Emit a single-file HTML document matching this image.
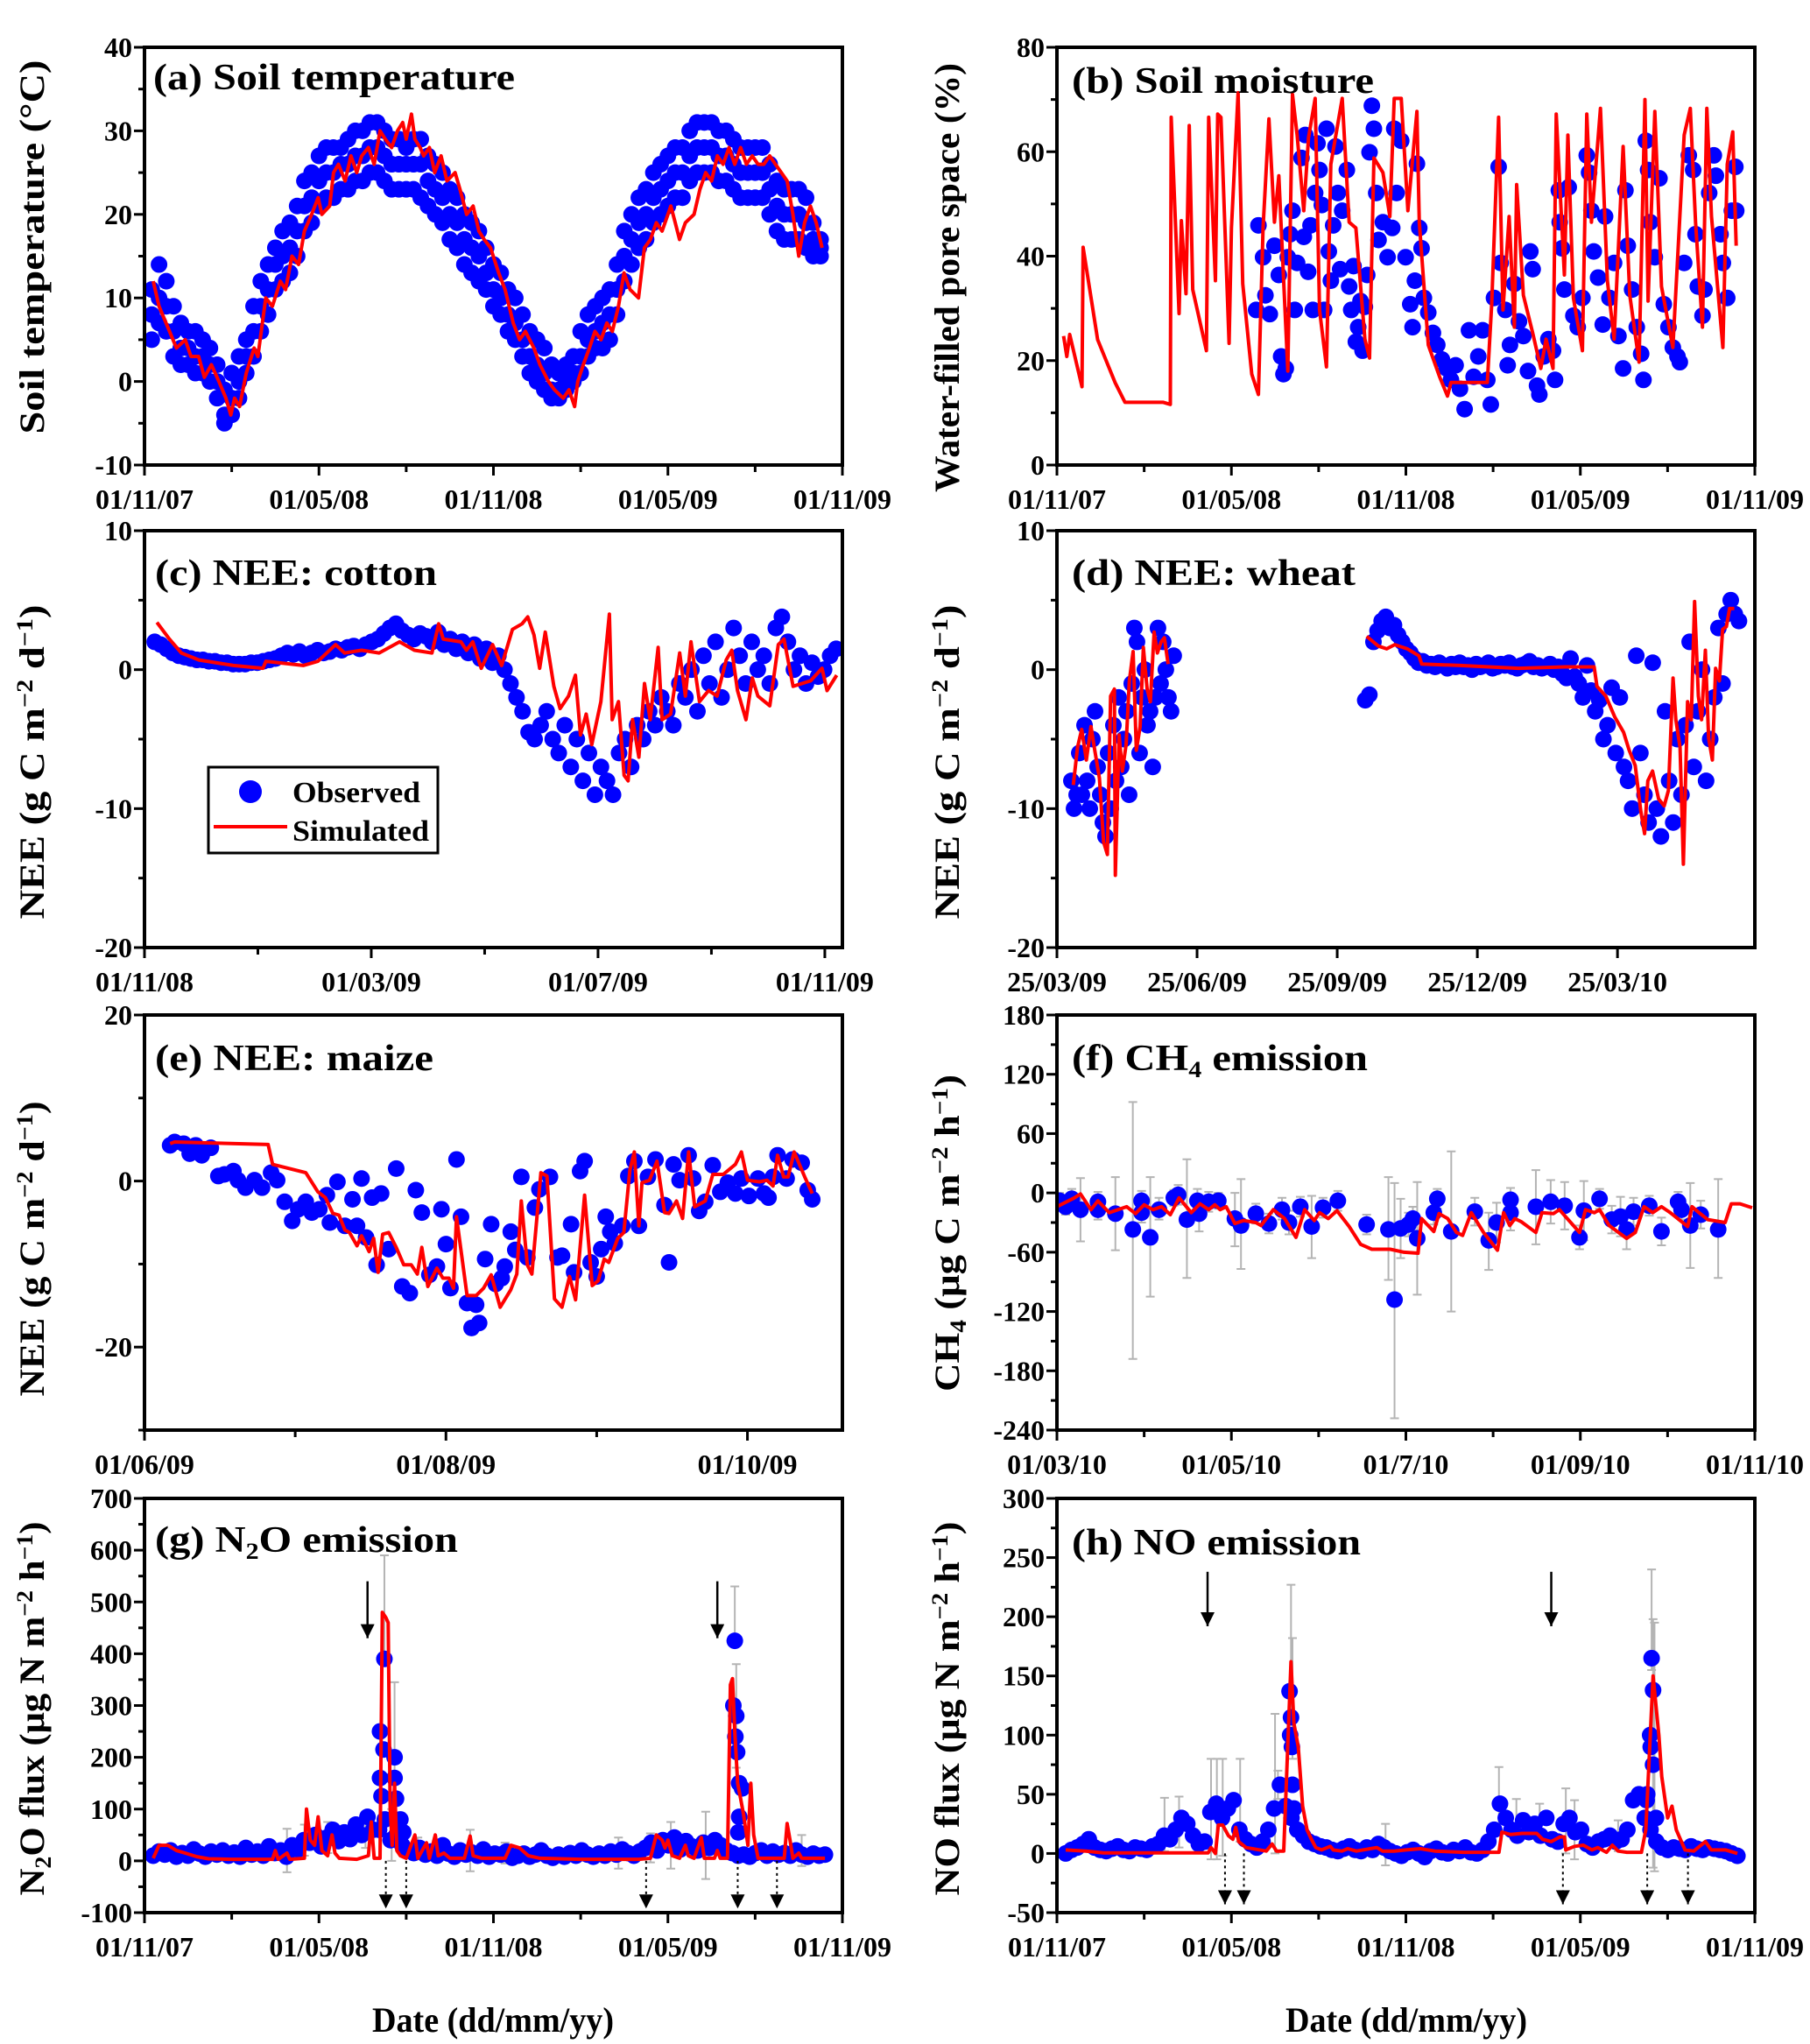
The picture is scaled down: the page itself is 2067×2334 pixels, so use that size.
<!DOCTYPE html>
<html><head><meta charset="utf-8">
<style>
html,body{margin:0;padding:0;background:#fff;}
svg{display:block;}
text{font-family:"Liberation Serif","Times New Roman",serif;font-weight:bold;fill:#000;}
</style></head>
<body>
<svg id="fig" xmlns="http://www.w3.org/2000/svg" width="2067" height="2334" viewBox="0 0 2067 2334">
<rect width="2067" height="2334" fill="#fff"/>
</svg>
<script>
// ---------- DATA (x in months from each panel's first date) ----------
// (a) soil temperature: observed band (low / mid / high samples every 0.25 month)
const obsAmid = [8,10,9,6,4,4,3,3,2,0,-4,-2,0,3,6,9,11,14,15,16,18,21,22,24,25,25,26,26,27,27,28,28,27,26,26,26,26,26,24,23,22,20,19,17,16,15,13,11,10,8,7,5,3,2,1,-1,-1,0,1,3,5,6,7,8,11,15,17,19,20,22,23,24,25,25,27,28,28,28,27,27,26,25,25,25,25,23,21,20,20,20,19,17,16];
const obsAlo = [5,7,6,3,2,2,1,1,0,-2,-5,-4,-2,1,3,6,8,11,12,13,15,18,19,21,22,22,23,23,24,24,25,25,24,23,23,23,23,22,21,20,19,17,16,14,13,12,11,9,8,6,5,3,1,0,-1,-2,-2,-1,0,1,3,4,4,5,8,12,14,16,17,19,20,21,22,22,24,25,25,25,24,24,23,22,22,22,22,20,18,17,17,17,16,15,15];
const obsAhi = [11,14,12,9,7,6,6,5,4,2,-1,1,3,5,9,12,14,16,18,19,21,24,25,27,28,28,28,29,30,30,31,31,30,29,29,28,29,29,27,26,25,23,22,20,19,18,16,14,13,11,10,8,6,5,4,2,1,2,3,6,8,9,10,11,14,18,20,22,23,25,26,27,28,28,30,31,31,31,30,30,29,28,28,28,28,26,24,23,23,23,22,19,17];
const spanA = [0.25, 23.25];
const simA = [[0.3,12],[0.5,9],[0.86,6],[1.1,4],[1.4,5],[1.6,3],[1.86,3],[2.06,0.5],[2.3,2],[2.56,0],[2.8,-2],[2.97,-4],[3.1,-2],[3.27,-3],[3.5,1],[3.77,4],[3.9,3],[4.17,10],[4.4,9],[4.67,12],[4.85,11],[5.07,15],[5.3,14],[5.5,18],[5.75,20],[5.97,22],[6.1,20],[6.37,21],[6.5,25],[6.67,26],[6.9,24],[7.1,27],[7.3,25],[7.47,27],[7.7,28],[7.9,26],[8.1,30],[8.28,29],[8.5,28],[8.7,30],[8.88,31],[9.0,29],[9.18,32],[9.3,29],[9.48,28],[9.6,27],[9.8,28],[9.98,25],[10.2,27],[10.4,24],[10.68,25],[10.85,23],[11.08,20],[11.3,21],[11.5,18],[11.68,17],[11.9,16],[12.18,13],[12.4,11],[12.68,7],[12.9,5],[13.1,6],[13.39,4],[13.6,2],[13.89,0],[14.1,-1],[14.4,-2],[14.6,-1],[14.79,-3],[14.9,0],[15.09,2],[15.3,4],[15.49,6],[15.7,5],[15.9,7],[16.09,6],[16.3,9],[16.49,13],[16.7,11],[16.99,10],[17.19,16],[17.4,17],[17.6,19],[17.8,18],[18.1,21],[18.25,19],[18.4,17],[18.6,19],[18.9,20],[19.1,23],[19.3,25],[19.5,24],[19.7,27],[19.9,26],[20.1,28],[20.3,26],[20.5,28],[20.7,26],[20.9,27],[21.1,26],[21.3,26],[21.5,27],[21.7,26],[21.9,25],[22.1,24],[22.3,20],[22.5,15],[22.7,19],[22.9,21],[23.1,19],[23.3,16]];
// (b) soil moisture
const simB = [[0.23,24.7],[0.34,20.8],[0.44,25],[0.86,15],[0.9,41.7],[1.4,24],[2.0,15.8],[2.34,12],[3.66,12],[3.9,11.6],[3.93,66.6],[4.2,29],[4.28,46.8],[4.44,32.8],[4.55,65],[4.67,33.6],[5.14,21.9],[5.22,66.6],[5.45,35.3],[5.53,67.2],[5.64,66.6],[5.92,23.3],[6.0,45.4],[6.23,71.3],[6.39,34.7],[6.7,17.4],[6.93,13.5],[7.09,45.4],[7.29,66.3],[7.48,46.5],[7.63,55.4],[7.94,18],[8.1,71],[8.26,63.2],[8.49,48.7],[8.65,62.7],[8.88,70.2],[9.03,29.7],[9.27,18.8],[9.42,57.6],[9.81,70.2],[10.05,46.5],[10.28,45.4],[10.59,24.1],[10.75,20.5],[10.9,58.8],[11.21,56],[11.45,47.6],[11.6,70.2],[11.84,70.2],[12.07,48.7],[12.38,67.7],[12.46,46.5],[12.77,23],[13.16,16.9],[13.43,13.2],[13.55,15.8],[14.8,15.8],[14.95,30.8],[15.19,66.6],[15.34,29.7],[15.55,47.6],[15.73,26.4],[15.81,53.7],[16.04,32.5],[16.36,25.3],[16.64,18.5],[16.82,24.1],[17.06,18.5],[17.17,67.2],[17.45,36.4],[17.57,63.2],[17.76,32],[18.07,21.9],[18.22,67.2],[18.38,46.5],[18.69,68.3],[18.93,35.3],[19.16,24.1],[19.47,61],[19.7,32.5],[20.02,19.7],[20.22,70],[20.33,31.4],[20.56,67.7],[20.79,34.2],[21.18,22.5],[21.57,63.2],[21.78,68.3],[21.96,46.5],[22.2,26.4],[22.35,68.3],[22.51,47.6],[22.9,22.5],[23.05,57.6],[23.24,63.8],[23.36,42]];
const obsB = [[6.85,29.7],[6.93,45.9],[7.09,39.8],[7.17,32.5],[7.32,28.9],[7.48,42],[7.63,36.4],[7.71,20.8],[7.79,17.4],[7.87,18.5],[7.94,39.8],[8.02,44.2],[8.1,48.7],[8.18,29.7],[8.26,38.7],[8.41,58.8],[8.49,43.7],[8.54,63.2],[8.64,37],[8.72,45.9],[8.8,29.7],[8.88,52.1],[8.96,61.6],[9.03,56.5],[9.11,49.8],[9.19,29.7],[9.27,64.4],[9.35,40.9],[9.42,35.3],[9.5,45.9],[9.58,61],[9.66,52.1],[9.74,37.5],[9.81,48.7],[9.97,56.5],[10.05,34.2],[10.12,29.7],[10.2,38.1],[10.28,23.6],[10.36,26.4],[10.44,31.4],[10.51,21.9],[10.59,30.3],[10.67,36.4],[10.75,59.9],[10.83,68.8],[10.9,64.4],[10.98,52.1],[11.06,43.1],[11.21,46.5],[11.37,39.8],[11.53,45.4],[11.6,64.4],[11.68,52.1],[11.84,62.1],[11.99,39.8],[12.15,30.8],[12.23,26.4],[12.31,35.3],[12.38,57.7],[12.46,45.4],[12.54,41.5],[12.62,32],[12.77,29.2],[12.93,25.3],[13.08,23],[13.24,20.2],[13.4,18.5],[13.55,16.3],[13.71,19.1],[13.86,14.6],[14.02,10.7],[14.17,25.8],[14.33,16.9],[14.49,20.8],[14.64,25.8],[14.8,16.3],[14.92,11.6],[15.03,32],[15.19,57.1],[15.26,38.7],[15.42,29.7],[15.5,19.1],[15.58,23],[15.73,34.7],[15.89,27.5],[16.04,24.7],[16.2,18],[16.28,40.9],[16.36,37.5],[16.51,15.2],[16.59,13.5],[16.74,20.8],[16.9,24.1],[17.06,21.9],[17.13,16.3],[17.26,52.6],[17.29,46.5],[17.37,41.5],[17.45,33.6],[17.6,53.2],[17.76,28.6],[17.91,26.4],[18.07,32],[18.22,59.3],[18.3,56],[18.38,48.7],[18.46,40.9],[18.61,35.9],[18.77,26.9],[18.85,47.6],[19,32],[19.16,38.7],[19.31,24.7],[19.47,18.5],[19.55,52.6],[19.63,42],[19.78,33.6],[19.94,26.4],[20.09,21.3],[20.17,16.3],[20.25,62.1],[20.33,56.5],[20.4,46.5],[20.56,39.8],[20.72,54.9],[20.87,30.8],[21.03,26.4],[21.18,22.5],[21.34,20.8],[21.42,19.7],[21.57,38.7],[21.73,59.3],[21.88,56.5],[21.96,44.2],[22.04,34.2],[22.2,28.6],[22.27,33.6],[22.43,52.1],[22.59,59.3],[22.66,55.4],[22.82,44.2],[22.9,38.7],[23.05,32],[23.21,48.7],[23.33,57.1],[23.36,48.7]];
// (c) NEE cotton
const simC = [[0.22,3.4],[0.44,2.2],[0.65,1.2],[0.96,0.7],[1.57,0.3],[2.09,0.1],[2.14,0.6],[2.8,0.3],[3.06,0.6],[3.37,1.8],[3.53,1.2],[3.83,1.4],[4.14,1.2],[4.5,2.0],[4.76,1.4],[5.07,1.2],[5.19,3.3],[5.27,2.2],[5.58,2.0],[5.68,1.4],[5.79,2.0],[5.94,0.1],[6.14,1.8],[6.3,0.3],[6.49,2.9],[6.66,3.3],[6.76,3.8],[6.87,2.5],[6.97,0.1],[7.07,2.7],[7.22,-1.2],[7.33,-2.8],[7.48,-1.9],[7.6,-0.4],[7.69,-4.7],[7.79,-3.2],[7.89,-5.4],[8.05,-2.3],[8.2,4.0],[8.25,-3.6],[8.36,-2.3],[8.46,-7.6],[8.53,-8.0],[8.61,-3.6],[8.72,-6.3],[8.82,-1.0],[8.92,-3.6],[9.06,1.6],[9.13,-3.6],[9.28,-3.2],[9.44,1.2],[9.54,-1.9],[9.64,2.0],[9.79,-2.3],[9.95,-1.5],[10.1,-1.9],[10.26,0.7],[10.36,1.4],[10.46,-1.5],[10.61,-3.6],[10.72,-0.6],[10.82,-1.9],[11.03,-2.6],[11.18,1.8],[11.28,2.2],[11.44,-1.2],[11.75,-0.8],[11.95,0.1],[12.04,-1.5],[12.21,-0.4]];
const obsC = [2,1.8,1.5,1.2,1,0.9,0.8,0.7,0.7,0.6,0.6,0.5,0.5,0.4,0.4,0.4,0.5,0.5,0.6,0.7,0.8,1.0,1.2,1.1,1.3,1.0,1.2,1.4,1.2,1.3,1.5,1.4,1.6,1.7,1.5,1.8,2.0,2.2,2.6,3.0,3.3,2.8,2.5,2.2,2.6,2.4,2.0,2.7,1.8,2.2,1.5,2.0,1.2,1.8,0.8,1.5,0.5,1.0,0,-1,-2,-3,-4.5,-5,-4,-3,-5,-6,-4,-7,-5,-8,-6,-9,-7,-8,-9,-6,-5,-7,-4,-5,-3,-4,-2,-3,-4,-1,-2,0,-3,1,-1,2,-2,0,3,1,-1,2,0,1,-1,3,3.8,2,0,1,-1,0.5,-0.5,0,1,1.5];
const spanC = [0.18, 12.2];
// (d) NEE wheat
const simD1 = [[0.35,-8.3],[0.44,-5.6],[0.53,-4.3],[0.63,-6.5],[0.73,-4.1],[0.81,-5.8],[0.91,-7.8],[1.0,-12.4],[1.08,-13.3],[1.15,-1.9],[1.23,-1.4],[1.25,-14.8],[1.33,-4.7],[1.4,-7.3],[1.48,-5.4],[1.55,-0.8],[1.63,1.3],[1.7,-5.8],[1.78,-4.1],[1.85,1.6],[1.93,-1.4],[2.0,-2.3],[2.08,2.7],[2.15,1.2],[2.23,2.0],[2.3,2.3],[2.38,0.4]];
const simD2 = [[6.63,2.4],[6.88,1.7],[7.06,1.5],[7.23,1.8],[7.5,1.5],[7.75,1.0],[7.81,0.4],[8.63,0.3],[9.88,0.1],[10.88,0.2],[11.5,0.2],[11.56,-1.2],[11.75,-1.9],[11.94,-3.4],[12.13,-4.5],[12.25,-5.8],[12.38,-6.9],[12.5,-10.2],[12.58,-11.8],[12.65,-8],[12.75,-7.3],[12.88,-9.3],[13.0,-9.8],[13.09,-8.7],[13.19,-0.6],[13.25,-3.6],[13.34,-5.6],[13.41,-14],[13.5,-2.3],[13.58,-3.6],[13.65,4.9],[13.73,-1.9],[13.8,-3.6],[13.88,1.4],[13.95,-4.9],[14.03,-6.5],[14.1,0.1],[14.18,-0.8],[14.25,2.9],[14.33,3.1],[14.4,4.4],[14.5,4.4]];
const obsD1 = [-8,-10,-9,-6,-9,-4,-8,-10,-5,-3,-7,-9,-11,-12,-6,-10,-4,-8,-2,-7,-5,-3,-9,-1,3,2,-6,-2,0,-4,-3,-7,-2,3,-1,2,0,-2,-3,1];
const spanD1 = [0.31, 2.5];
const obsD2 = [-2.2,-1.8,2,2.8,3.5,3.8,3,3.2,2.5,2,1.5,1.2,
 0.8,0.5,0.6,0.3,0.4,0.2,0.5,0.3,0.1,0.4,0.2,0.5,0.2,0.3,0,0.4,0.2,0.3,0.5,0.1,0.2,0.4,0.3,0.5,0.2,0.1,0.3,0.4,0.6,0.2,0.3,0.1,0.2,0.4,0,0.2,-0.3,-0.6,0.8,-0.5,
 -1,-2,0.3,-1.5,-3,-2.2,-5,-4,-1.3,-6,-2,-7,
 -8,-10,1,-6,-9,-11,0.5,-10,-12,-3,-8,-11,-5,-9,
 -4,2,-7,-3,0,-8,-5,-2,3,-1,4,5,4,3.5];
const spanD2 = [6.6, 14.6];
// (e) NEE maize
const simE = [[0.17,4.5],[0.2,4.7],[0.82,4.4],[0.85,2.0],[1.07,1.0],[1.15,-1.3],[1.2,-2.0],[1.25,-3.9],[1.29,-4.1],[1.33,-5.9],[1.36,-6.2],[1.41,-7.8],[1.44,-6.6],[1.49,-8.5],[1.52,-6.9],[1.55,-11],[1.58,-6.4],[1.62,-6.2],[1.67,-8],[1.72,-10.1],[1.77,-10.1],[1.81,-11.2],[1.84,-8],[1.88,-12.7],[1.94,-10.5],[1.98,-11.7],[2.02,-11.7],[2.05,-12.9],[2.07,-4.3],[2.14,-13.8],[2.2,-13.8],[2.25,-12.9],[2.3,-11.3],[2.36,-15.2],[2.43,-13.1],[2.47,-11.2],[2.5,-2.4],[2.54,-10.1],[2.57,-11.2],[2.63,1.0],[2.67,0.6],[2.72,-14.2],[2.77,-15.2],[2.82,-11.5],[2.86,-14.3],[2.92,-1.7],[2.97,-12.6],[3.01,-12],[3.05,-9.4],[3.08,-9.8],[3.14,-6.9],[3.18,-6.2],[3.22,1.3],[3.25,3.5],[3.28,-5.4],[3.3,-0.2],[3.35,0.1],[3.4,2.4],[3.45,-3.8],[3.48,-3.9],[3.53,-2.4],[3.57,-4.5],[3.61,3.5],[3.65,-3.1],[3.72,-2.4],[3.77,0.8],[3.84,0.8],[3.92,2.0],[3.96,3.5],[4.0,0.1],[4.08,-0.1],[4.13,0.1],[4.17,-0.6],[4.2,3.1],[4.24,0.5],[4.27,0.5],[4.31,3.5],[4.38,0.5],[4.43,-1.5]];
const obsE = [[.17,4.3],[.20,4.7],[.26,4.5],[.30,3.3],[.34,4.3],[.38,3.1],[.44,4.0],[.49,0.6],[.53,0.8],[.59,1.2],[.62,0.1],[.67,-0.8],[.73,0.1],[.78,-0.8],[.84,1.0],[.88,0.1],[.93,-2.5],[.98,-4.8],[1.02,-3.4],[1.07,-2.5],[1.11,-3.8],[1.16,-3.4],[1.21,-1.7],[1.23,-5.0],[1.28,-0.1],[1.33,-5.4],[1.38,-2.2],[1.41,-5.4],[1.44,0.3],[1.47,-6.8],[1.51,-2.0],[1.57,-1.5],[1.54,-10.1],[1.62,-8.2],[1.67,1.5],[1.71,-12.7],[1.76,-13.5],[1.80,-1.1],[1.84,-3.8],[1.89,-11.3],[1.94,-10.3],[1.97,-3.4],[2.00,-7.6],[2.03,-12.9],[2.07,2.6],[2.10,-4.3],[2.14,-14.7],[2.20,-14.9],[2.17,-17.7],[2.22,-17.1],[2.26,-9.4],[2.30,-5.2],[2.33,-12.4],[2.37,-11.7],[2.39,-10.3],[2.43,-6.1],[2.46,-8.3],[2.50,0.5],[2.54,-9.2],[2.59,-3.2],[2.62,-1.0],[2.69,0.5],[2.74,-9.2],[2.77,-9.0],[2.83,-5.2],[2.85,-11.0],[2.89,1.2],[2.92,2.4],[2.96,-9.8],[3.00,-11.5],[3.03,-8.2],[3.06,-4.3],[3.09,-6.1],[3.12,-7.5],[3.17,-5.4],[3.21,0.6],[3.25,2.4],[3.28,-5.4],[3.34,0.5],[3.39,2.6],[3.45,-2.9],[3.48,-9.8],[3.51,2.0],[3.55,0.1],[3.61,3.1],[3.64,0.3],[3.68,-3.6],[3.72,-2.5],[3.77,1.9],[3.82,-1.3],[3.87,-0.2],[3.92,-1.5],[3.96,0.3],[4.01,-1.8],[4.07,0.3],[4.11,-1.5],[4.14,-2.0],[4.17,0.5],[4.20,3.1],[4.26,0.3],[4.30,2.6],[4.36,2.2],[4.40,-1.1],[4.43,-2.2]];
// (f) CH4: [month, value, errUp, errDown]
const obsF = [[0.03,-8,8,8],[0.10,-14,10,8],[0.17,-6,10,10],[0.27,-17,32,32],[0.47,-9,10,10],[0.47,-17,10,10],[0.67,-21,37,37],[0.87,-37,129,131],[0.97,-8,10,10],[0.97,-20,10,10],[1.07,-45,61,60],[1.17,-17,12,10],[1.34,-5,8,8],[1.39,-2,10,10],[1.49,-27,61,59],[1.61,-8,12,10],[1.63,-21,18,18],[1.74,-9,10,10],[1.85,-8,8,8],[2.04,-26,26,28],[2.11,-33,47,44],[2.28,-21,10,10],[2.43,-31,10,10],[2.58,-17,12,10],[2.66,-30,12,12],[2.79,-14,10,10],[2.92,-34,31,32],[3.05,-15,10,10],[3.22,-8,10,10],[3.55,-32,10,10],[3.80,-37,53,51],[3.87,-108,118,120],[3.94,-36,30,30],[4.03,-32,12,12],[4.08,-26,12,12],[4.13,-46,57,57],[4.32,-20,12,12],[4.36,-6,10,10],[4.52,-39,81,81],[4.79,-19,14,14],[4.95,-48,28,30],[5.04,-30,20,20],[5.20,-7,12,12],[5.20,-20,18,18],[5.49,-14,37,38],[5.66,-9,22,22],[5.82,-13,24,24],[5.99,-45,12,12],[6.04,-18,30,30],[6.22,-6,10,10],[6.36,-27,14,14],[6.46,-24,20,20],[6.53,-37,20,20],[6.61,-19,14,14],[6.79,-13,10,10],[6.93,-39,14,14],[7.12,-9,10,10],[7.16,-17,10,10],[7.26,-33,43,43],[7.38,-22,14,14],[7.58,-37,51,49]];
const simF = [[0,-14],[0.2,-5],[0.27,-1],[0.39,-17],[0.47,-8],[0.6,-20],[0.8,-14],[0.9,-21],[1.0,-12],[1.1,-17],[1.2,-14],[1.3,-22],[1.4,-5],[1.54,-20],[1.64,-11],[1.74,-17],[1.81,-12],[1.87,-17],[1.94,-14],[2.04,-31],[2.14,-28],[2.28,-30],[2.34,-33],[2.48,-17],[2.61,-26],[2.74,-45],[2.84,-17],[2.95,-28],[3.01,-20],[3.11,-26],[3.21,-18],[3.35,-34],[3.48,-52],[3.61,-57],[3.82,-57],[3.98,-60],[4.14,-61],[4.18,-26],[4.32,-39],[4.38,-21],[4.48,-26],[4.58,-40],[4.65,-43],[4.75,-20],[4.89,-40],[5.05,-58],[5.12,-20],[5.19,-33],[5.25,-26],[5.32,-29],[5.49,-40],[5.56,-20],[5.69,-21],[5.76,-17],[5.99,-40],[6.06,-17],[6.16,-20],[6.22,-17],[6.33,-33],[6.53,-46],[6.63,-40],[6.73,-14],[6.83,-20],[6.93,-14],[7.03,-20],[7.23,-34],[7.28,-14],[7.36,-20],[7.46,-27],[7.66,-30],[7.73,-11],[7.83,-11],[7.97,-15]];
// (g) N2O
const simG = [[0.3,5],[0.5,30],[0.8,30],[1.1,20],[1.4,15],[1.8,8],[2.2,4],[3,3],[4,3],[4.4,3],[4.5,20],[4.6,3],[4.9,15],[5.0,3],[5.5,5],[5.57,100],[5.7,40],[5.85,30],[5.97,85],[6.1,20],[6.3,10],[6.45,50],[6.55,15],[6.7,5],[7.3,3],[7.7,10],[7.8,75],[7.9,5],[8.1,5],[8.18,480],[8.3,470],[8.38,460],[8.45,100],[8.52,30],[8.6,150],[8.68,20],[8.8,10],[9.0,5],[9.3,50],[9.4,5],[9.7,35],[9.8,5],[10.0,50],[10.1,10],[10.3,15],[10.5,5],[11.0,5],[11.2,48],[11.3,10],[11.6,5],[12.4,5],[12.6,30],[12.9,25],[13.2,10],[13.6,5],[15,3],[16,3],[17,3],[17.4,5],[17.6,50],[17.8,40],[17.9,25],[18.0,40],[18.15,10],[18.4,5],[18.6,30],[18.7,10],[18.9,5],[19.15,45],[19.25,5],[19.6,5],[19.7,20],[19.8,5],[20.05,5],[20.15,340],[20.22,352],[20.3,250],[20.4,150],[20.5,120],[20.6,90],[20.75,30],[20.85,150],[20.95,50],[21.1,5],[22.0,5],[22.1,72],[22.2,40],[22.3,5],[22.5,15],[22.6,5],[23.4,5]];
const obsGbase = [10,18,12,20,8,15,10,22,14,8,18,12,20,10,16,8,25,12,18,10,28,15,20,8,
 30,22,40,35,50,28,45,60,38,55,42,70,50,85,60,
 60,80,40,50,30,
 20,15,25,12,18,10,30,14,8,20,12,16,10,22,8,14,12,18,6,10,14,8,12,20,10,6,12,8,15,10,20,12,8,14,10,18,12,22,15,10,18,
 25,35,20,40,30,45,22,38,28,20,35,25,40,30,
 20,15,10,12,
 8,15,20,10,18,12,15,10,20,12,8,14,10,12];
const spanG = [0.3, 23.4];
const obsGpeak = [[8.1,250],[8.25,390],[8.22,215],[8.1,160],[8.15,125],[8.6,200],[8.6,160],[8.65,120],[8.8,80],[8.9,55],[20.3,425],[20.25,300],[20.35,280],[20.32,240],[20.38,210],[20.45,150],[20.55,140],[20.45,85],[20.42,55]];
const errG = [[4.9,20,42,42],[5.5,40,30,30],[6.3,45,30,30],[7.6,60,35,35],[8.25,390,200,10],[8.6,200,145,150],[8.5,60,40,60],[9.4,30,15,15],[11.2,20,40,40],[12.4,15,20,20],[16.3,15,30,30],[17.4,25,28,28],[18.1,30,45,45],[19.3,20,75,55],[20.3,425,105,10],[20.35,280,100,100],[22.6,20,30,30]];
// (h) NO
const simH = [[0.3,3],[1.0,2],[1.6,0.5],[5.2,0.5],[5.3,5],[5.45,0],[5.55,24],[5.7,24],[5.9,15],[6.05,12],[6.15,22],[6.25,10],[6.5,5],[7.2,2],[7.4,8],[7.55,2],[7.8,2],[8.05,162],[8.15,110],[8.3,90],[8.45,40],[8.6,20],[8.75,12],[8.9,5],[9.1,3],[9.4,6],[9.5,3],[9.8,2],[10.0,4],[10.3,2],[11.0,5],[11.2,2],[11.6,2],[12.0,3],[12.5,4],[13.0,2],[14,1],[15.2,1],[15.3,18],[15.6,16],[16.0,17],[16.5,17],[16.7,12],[17.0,10],[17.3,14],[17.45,14],[17.5,3],[17.8,6],[18.1,7],[18.4,3],[18.6,5],[18.9,1],[19.1,7],[19.3,2],[19.6,1],[20.1,1],[20.25,20],[20.5,150],[20.7,100],[20.8,65],[21.0,30],[21.15,40],[21.3,20],[21.6,3],[21.9,2],[22.3,10],[22.5,3],[23.0,3],[23.4,0]];
const obsHbase = [0,3,5,8,12,5,3,2,4,6,3,2,5,4,3,6,8,15,12,20,30,25,15,8,10,35,42,30,38,45,20,12,8,5,10,20,38,58,40,30,20,15,10,8,6,5,3,2,4,6,3,2,5,3,8,5,2,0,-2,1,3,0,-3,2,4,1,0,3,2,5,1,0,3,10,20,42,30,20,15,28,18,25,15,30,12,10,25,30,18,20,8,5,10,12,15,10,12,20,45,50,30,20,10,5,3,5,4,3,6,4,3,5,4,3,2,0,-2];
const spanH = [0.3, 23.4];
const obsHpeak = [[8.0,137],[8.05,115],[8.02,100],[8.08,90],[8.1,58],[8.15,38],[20.45,165],[20.5,138],[20.4,100],[20.42,90],[20.5,75],[20.3,50],[20.28,45],[20.6,30]];
const errH = [[3.7,22,25,20],[4.2,30,18,25],[5.3,35,45,40],[5.5,40,40,45],[5.7,38,42,40],[6.3,45,35,35],[7.5,40,78,40],[7.6,58,12,12],[8.05,137,90,20],[8.1,100,82,20],[11.3,10,15,20],[15.2,40,33,20],[15.8,28,18,18],[16.6,30,12,12],[17.5,30,25,30],[17.8,20,25,25],[19.3,15,13,13],[20.45,165,75,10],[20.5,138,60,150],[20.55,75,120,90]];
// arrows (fertilization / irrigation)
const arrowsSolidG = [7.67, 19.7], arrowsDotG = [8.3, 9.0, 17.25, 20.4, 21.75];
const arrowsSolidH = [5.18, 17.0], arrowsDotH = [5.78, 6.43, 17.4, 20.3, 21.7];

// tick labels
const dateTicks24 = ['01/11/07','01/05/08','01/11/08','01/05/09','01/11/09'];
const ticksC = ['01/11/08','01/03/09','01/07/09','01/11/09'];
const ticksD = ['25/03/09','25/06/09','25/09/09','25/12/09','25/03/10'];
const ticksE = ['01/06/09','01/08/09','01/10/09'];
const ticksF = ['01/03/10','01/05/10','01/7/10','01/09/10','01/11/10'];

// ---------- RENDERING ----------
const NS = 'http://www.w3.org/2000/svg';
const svg = document.getElementById('fig');
function mk(tag, attrs, parent) {
  const e = document.createElementNS(NS, tag);
  for (const k in attrs) e.setAttribute(k, attrs[k]);
  if (parent) parent.appendChild(e);
  return e;
}
function spread(span, vals) {
  const n = vals.length;
  return vals.map((v, i) => [span[0] + (span[1] - span[0]) * i / (n - 1), v]);
}
const L1 = 165, R1 = 962, L2 = 1207, R2 = 2004;
const rows = [[54, 531], [606, 1082], [1159, 1633], [1711, 2184]];

const panels = [
 {key:'a', L:L1, R:R1, T:rows[0][0], B:rows[0][1], xmin:0, xmax:24, ymin:-10, ymax:40, yMaj:10, yMin:5, xMajVals:[0,6,12,18,24], xLabels:dateTicks24, xMinor:[3,9,15,21],
  obs:[spread(spanA, obsAlo), spread(spanA, obsAhi), spread(spanA, obsAmid)], sims:[simA]},
 {key:'b', L:L2, R:R2, T:rows[0][0], B:rows[0][1], xmin:0, xmax:24, ymin:0, ymax:80, yMaj:20, yMin:10, xMajVals:[0,6,12,18,24], xLabels:dateTicks24, xMinor:[3,9,15,21],
  obs:[obsB], sims:[simB]},
 {key:'c', L:L1, R:R1, T:rows[1][0], B:rows[1][1], xmin:0, xmax:12.31, ymin:-20, ymax:10, yMaj:10, yMin:5, xMajVals:[0,4,8,12], xLabels:ticksC, xMinor:[2,6,10],
  obs:[spread(spanC, obsC)], sims:[simC]},
 {key:'d', L:L2, R:R2, T:rows[1][0], B:rows[1][1], xmin:0, xmax:14.94, ymin:-20, ymax:10, yMaj:10, yMin:5, xMajVals:[0,3,6,9,12], xLabels:ticksD, xMinor:[],
  obs:[spread(spanD1, obsD1), spread(spanD2, obsD2)], sims:[simD1, simD2]},
 {key:'e', L:L1, R:R1, T:rows[2][0], B:rows[2][1], xmin:0, xmax:4.63, ymin:-30, ymax:20, yMaj:20, yMin:10, yLab:[20,0,-20], xMajVals:[0,2,4], xLabels:ticksE, xMinor:[1,3],
  obs:[obsE], sims:[simE]},
 {key:'f', L:L2, R:R2, T:rows[2][0], B:rows[2][1], xmin:0, xmax:8, ymin:-240, ymax:180, yMaj:60, yMin:30, xMajVals:[0,2,4,6,8], xLabels:ticksF, xMinor:[1,3,5,7],
  err:obsF, obs:[obsF.map(p=>[p[0],p[1]])], sims:[simF]},
 {key:'g', L:L1, R:R1, T:rows[3][0], B:rows[3][1], xmin:0, xmax:24, ymin:-100, ymax:700, yMaj:100, yMin:50, xMajVals:[0,6,12,18,24], xLabels:dateTicks24, xMinor:[3,9,15,21],
  err:errG, obs:[spread(spanG, obsGbase), obsGpeak], sims:[simG], solid:arrowsSolidG, dotted:arrowsDotG, solidY:[540,430], dotY:[0,-92]},
 {key:'h', L:L2, R:R2, T:rows[3][0], B:rows[3][1], xmin:0, xmax:24, ymin:-50, ymax:300, yMaj:50, yMin:25, xMajVals:[0,6,12,18,24], xLabels:dateTicks24, xMinor:[3,9,15,21],
  err:errH, obs:[spread(spanH, obsHbase), obsHpeak], sims:[simH], solid:arrowsSolidH, dotted:arrowsDotH, solidY:[238,192], dotY:[0,-43]}
];

const defs = mk('defs', {}, svg);
const ah = mk('marker', {id:'ah', viewBox:'0 0 10 10', refX:'10', refY:'5', markerWidth:'22', markerHeight:'16', markerUnits:'userSpaceOnUse', orient:'auto'}, defs);
mk('path', {d:'M0,0 L10,5 L0,10 Z', fill:'#000'}, ah);

panels.forEach(p => {
  const g = mk('g', {}, svg);
  
  
  const sx = v => p.L + (v - p.xmin) / (p.xmax - p.xmin) * (p.R - p.L);
  const sy = v => p.B - (v - p.ymin) / (p.ymax - p.ymin) * (p.B - p.T);
  const cp = mk('clipPath', {id:'clip-' + p.key}, defs);
  mk('rect', {x:p.L, y:p.T, width:p.R - p.L, height:p.B - p.T}, cp);
  const plot = mk('g', {'clip-path':'url(#clip-' + p.key + ')'}, g);
  
  
  if (p.err) {
    const eg = mk('g', {stroke:'#b4b4b4', 'stroke-width':'2', fill:'none'}, plot);
    
    
    p.err.forEach(e => {
      const x = sx(e[0]), y1 = sy(e[1] + e[2]), y2 = sy(e[1] - e[3]);
      mk('path', {d:`M${x},${y1}V${y2}M${x-5},${y1}H${x+5}M${x-5},${y2}H${x+5}`}, eg);
    });
  }
  const og = mk('g', {fill:'#0000ff'}, plot);
  
  
  p.obs.forEach(arr => arr.forEach(pt => {
    const c = mk('circle', {cx:sx(pt[0]), cy:sy(pt[1]), r:9.5}, og);
    
    
  }));
  p.sims.forEach(arr => {
    const d = arr.map((pt, i) => (i ? 'L' : 'M') + sx(pt[0]).toFixed(1) + ',' + sy(pt[1]).toFixed(1)).join('');
    const pl = mk('path', {d:d, fill:'none', stroke:'#ff0000', 'stroke-width':'4', 'stroke-linejoin':'round'}, plot);
    
    
  });
  if (p.solid) {
    p.solid.forEach(m => {
      const a = mk('line', {x1:sx(m), x2:sx(m), y1:sy(p.solidY[0]), y2:sy(p.solidY[1]), stroke:'#000', 'stroke-width':'2.5', 'marker-end':'url(#ah)'}, g);
      
      
    });
    p.dotted.forEach(m => {
      const a = mk('line', {x1:sx(m), x2:sx(m), y1:sy(p.dotY[0]), y2:sy(p.dotY[1]), stroke:'#000', 'stroke-width':'2', 'stroke-dasharray':'3,4', 'marker-end':'url(#ah)'}, g);
      
      
    });
  }
  const fr = mk('rect', {x:p.L, y:p.T, width:p.R - p.L, height:p.B - p.T, fill:'none', stroke:'#000', 'stroke-width':'4'}, g);
  
  
  const ya = mk('g', {}, g);
  
  
  for (let v = p.ymin; v <= p.ymax + 1e-9; v += p.yMin) {
    const isMaj = Math.abs(((v - p.ymin) / p.yMaj) - Math.round((v - p.ymin) / p.yMaj)) < 1e-6;
    const major = p.yLab ? p.yLab.includes(v) : isMaj;
    mk('line', {x1:p.L, x2:p.L - (major ? 12 : 7), y1:sy(v), y2:sy(v), stroke:'#000', 'stroke-width':'3'}, ya);
    if (major) {
      const t = mk('text', {x:p.L - 14, y:sy(v) + 11, 'text-anchor':'end', 'font-size':'32'}, ya);
      t.textContent = String(v);
      
      
    }
  }
  const xa = mk('g', {}, g);
  
  
  p.xMajVals.forEach((v, i) => {
    mk('line', {x1:sx(v), x2:sx(v), y1:p.B, y2:p.B + 12, stroke:'#000', 'stroke-width':'3'}, xa);
    const t = mk('text', {x:sx(v), y:p.B + 50, 'text-anchor':'middle', 'font-size':'32'}, xa);
    t.textContent = p.xLabels[i];
    
    
  });
  p.xMinor.forEach(v => mk('line', {x1:sx(v), x2:sx(v), y1:p.B, y2:p.B + 8, stroke:'#000', 'stroke-width':'3'}, xa));
});

function txt(parent, x, y, html, attrs, name) {
  const t = mk('text', Object.assign({x:x, y:y}, attrs), parent);
  t.innerHTML = html;
  
  
  return t;
}
const sub = s => `<tspan baseline-shift="-30%" font-size="26">${s}</tspan>`;
const sup = s => `<tspan baseline-shift="50%" font-size="26">${s}</tspan>`;
const T = mk('g', {}, svg);


function title(x, y, html, len, name) {
  return txt(T, x, y, html, {'font-size':'42', textLength:len, lengthAdjust:'spacingAndGlyphs'}, name);
}
title(175, 102, '(a) Soil temperature', 413, 'panel-title-a');
title(1224, 106, '(b) Soil moisture', 345, 'panel-title-b');
title(177, 668, '(c) NEE: cotton', 322, 'panel-title-c');
title(1224, 668, '(d) NEE: wheat', 324, 'panel-title-d');
title(177, 1222, '(e) NEE: maize', 318, 'panel-title-e');
title(1224, 1222, '(f) CH' + sub('4') + ' emission', 338, 'panel-title-f');
title(177, 1772, '(g) N' + sub('2') + 'O emission', 346, 'panel-title-g');
title(1224, 1775, '(h) NO emission', 330, 'panel-title-h');

function ylab(cx, cy, html, len, name) {
  return txt(T, 0, 0, html, {'font-size':'40', 'text-anchor':'middle', transform:`translate(${cx},${cy}) rotate(-90)`, textLength:len, lengthAdjust:'spacingAndGlyphs'}, name);
}
const neeLab = 'NEE (g C m' + sup('&#8722;2') + ' d' + sup('&#8722;1') + ')';
ylab(50, 282, 'Soil temperature (°C)', 427, 'y-axis-title-a');
ylab(1095, 317, 'Water-filled pore space (%)', 490, 'y-axis-title-b');
ylab(50, 870, neeLab, 359, 'y-axis-title-c');
ylab(1095, 870, neeLab, 359, 'y-axis-title-d');
ylab(50, 1426, neeLab, 337, 'y-axis-title-e');
ylab(1095, 1408, 'CH' + sub('4') + ' (μg C m' + sup('&#8722;2') + ' h' + sup('&#8722;1') + ')', 362, 'y-axis-title-f');
ylab(50, 1951, 'N' + sub('2') + 'O flux (μg N m' + sup('&#8722;2') + ' h' + sup('&#8722;1') + ')', 427, 'y-axis-title-g');
ylab(1095, 1951, 'NO flux (μg N m' + sup('&#8722;2') + ' h' + sup('&#8722;1') + ')', 427, 'y-axis-title-h');
txt(T, 563, 2320, 'Date (dd/mm/yy)', {'font-size':'40', 'text-anchor':'middle', textLength:276, lengthAdjust:'spacingAndGlyphs'}, 'x-axis-title-left');
txt(T, 1606, 2320, 'Date (dd/mm/yy)', {'font-size':'40', 'text-anchor':'middle', textLength:276, lengthAdjust:'spacingAndGlyphs'}, 'x-axis-title-right');

const lg = mk('g', {}, svg);


mk('rect', {x:238, y:876, width:262, height:98, fill:'#fff', stroke:'#000', 'stroke-width':'3'}, lg);
const ld = mk('circle', {cx:286, cy:904, r:13, fill:'#0000ff'}, lg);


txt(lg, 334, 916, 'Observed', {'font-size':'34', textLength:146, lengthAdjust:'spacingAndGlyphs'}, 'legend-observed-label');
const ll = mk('line', {x1:244, x2:328, y1:944, y2:944, stroke:'#ff0000', 'stroke-width':'4'}, lg);


txt(lg, 334, 960, 'Simulated', {'font-size':'34', textLength:156, lengthAdjust:'spacingAndGlyphs'}, 'legend-simulated-label');
</script>
</body></html>
